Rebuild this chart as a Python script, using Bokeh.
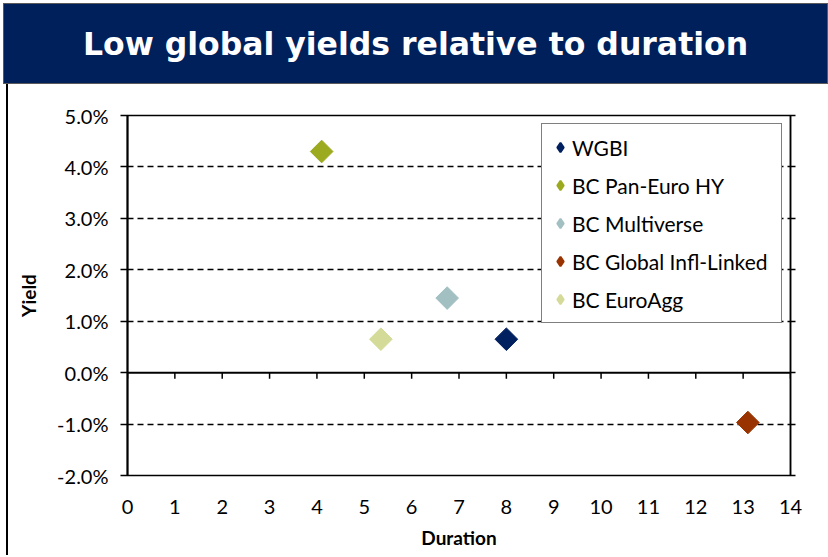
import numpy as np
from bokeh.plotting import figure
from bokeh.models import (Range1d, FixedTicker, PrintfTickFormatter, LinearAxis,
                          Span, Legend, LegendItem, Div)
from bokeh.layouts import column, row
from bokeh.embed import file_html
from bokeh.resources import INLINE

# ---------------- data ----------------
title_text = "Low global yields relative to duration"
series = ["WGBI", "BC Pan-Euro HY", "BC Multiverse", "BC Global Infl-Linked", "BC EuroAgg"]
duration = [8.0, 4.1, 6.75, 13.1, 5.35]
yield_pct = [0.65, 4.3, 1.45, -0.97, 0.65]
colors = ["#002060", "#9BAA1E", "#A2C0C2", "#993300", "#D4DB98"]
x_ticks = list(range(0, 15))
y_ticks = [-2, -1, 0, 1, 2, 3, 4, 5]
grid_ticks = [-1, 1, 2, 3, 4]

FONT = "Lato"
FIG_W = 820
FIG_H = 471

banner = Div(text=title_text, width=825, height=81, margin=(3, 0, 0, 3), styles={
    "background-color": "#00205B",
    "color": "white",
    "font-family": "DejaVu Sans",
    "font-weight": "bold",
    "font-size": "31.5px",
    "text-align": "center",
    "line-height": "81px",
    "border": "1px solid #5a5a5a",
    "box-sizing": "border-box",
})

left_rule = Div(text="", width=2, height=FIG_H, margin=(0, 0, 0, 6),
                styles={"background-color": "black"})

p = figure(width=FIG_W, height=FIG_H, x_range=Range1d(0, 14), y_range=Range1d(-2, 5),
           output_backend="svg", toolbar_location=None,
           min_border_left=119, min_border_right=38, min_border_top=31, min_border_bottom=80)

p.outline_line_color = "black"
p.outline_line_width = 1.5
p.background_fill_color = "white"
p.border_fill_color = "white"

# x axis
xa = p.xaxis[0]
xa.ticker = FixedTicker(ticks=x_ticks)
xa.major_tick_in = 0
xa.major_tick_out = 0
xa.minor_tick_line_color = None
xa.axis_line_color = None
xa.major_label_standoff = 24
xa.major_label_text_font = FONT
xa.major_label_text_font_size = "20px"
xa.major_label_text_color = "black"
xa.axis_label = "Duration"
xa.axis_label_text_font = FONT
xa.axis_label_text_font_style = "bold"
xa.axis_label_text_font_size = "19px"
xa.axis_label_text_color = "black"
xa.axis_label_standoff = 9

# y axis
ya = p.yaxis[0]
ya.ticker = FixedTicker(ticks=y_ticks)
ya.formatter = PrintfTickFormatter(format="%.1f%%")
ya.major_tick_in = 0
ya.major_tick_out = 7
ya.major_tick_line_width = 1.5
ya.minor_tick_line_color = None
ya.axis_line_width = 2
ya.major_label_standoff = 12
ya.major_label_text_font = FONT
ya.major_label_text_font_size = "20px"
ya.major_label_text_color = "black"
ya.axis_label = "Yield"
ya.axis_label_text_font = FONT
ya.axis_label_text_font_style = "bold"
ya.axis_label_text_font_size = "19px"
ya.axis_label_text_color = "black"
ya.axis_label_standoff = 14

# right axis (ticks only)
ra = LinearAxis(ticker=FixedTicker(ticks=y_ticks),
                major_label_overrides={t: "" for t in y_ticks})
ra.major_tick_in = 0
ra.major_tick_out = 5
ra.major_tick_line_width = 1.5
ra.minor_tick_line_color = None
ra.axis_line_width = 1.5
p.add_layout(ra, "right")

# grid
p.xgrid.visible = False
p.ygrid.ticker = FixedTicker(ticks=grid_ticks)
p.ygrid.grid_line_color = "black"
p.ygrid.grid_line_dash = "6 4"
p.ygrid.grid_line_width = 1.4

# zero line with its tick marks
p.add_layout(Span(location=0, dimension="width", line_color="black", line_width=2))
p.segment(x0=x_ticks, y0=[0] * len(x_ticks), x1=x_ticks, y1=[-0.12] * len(x_ticks),
          line_color="black", line_width=1.5)

items = []
for name, d, yv, c in zip(series, duration, yield_pct, colors):
    # data point: a square turned 45 degrees (equal-sided diamond)
    p.scatter(x=[d], y=[yv], marker="square", angle=np.pi / 4, size=16,
              fill_color=c, line_color=c)
    # legend swatch (no visible data; legend ignores marker angle)
    sw = p.scatter(x=[np.nan], y=[np.nan], marker="diamond", size=10,
                   fill_color=c, line_color=c, line_width=2)
    items.append(LegendItem(label=name, renderers=[sw]))

legend = Legend(items=items, location="top_right", margin=8, padding=6,
                border_line_color="black", border_line_width=1,
                background_fill_color="white", background_fill_alpha=1,
                label_text_font=FONT, label_text_font_size="21px",
                label_text_color="black",
                glyph_width=24, glyph_height=24, label_height=34, label_width=203,
                label_standoff=0, spacing=4)
p.add_layout(legend)

layout = column(banner, row(left_rule, p, spacing=0), spacing=0)
open("out.html", "w").write(file_html(layout, INLINE))
